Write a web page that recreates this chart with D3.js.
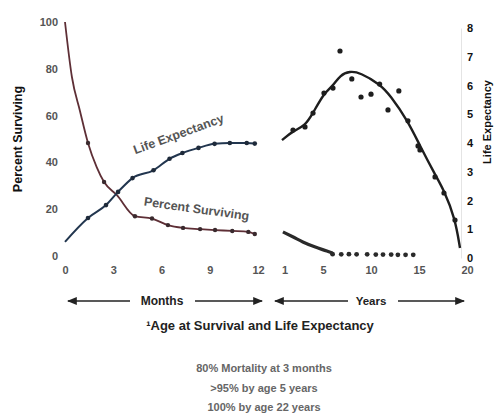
<!DOCTYPE html>
<html>
<head>
<meta charset="utf-8">
<script src="https://cdn.jsdelivr.net/npm/d3@7"></script>
<style>
  body { margin: 0; background: #fff; }
  svg text { font-family: "Liberation Sans", Arial, sans-serif; }
</style>
</head>
<body>
<div id="chart"></div>
<script>
// months part: percent surviving (left axis)
var survMonthsCurve = [[0,100],[0.43,76.5],[0.93,62],[1.43,48.3],[1.97,38],[2.43,31.6],[3.23,26],[4.35,17],[5.41,16],[6.4,13.2],[7.34,12],[8.4,11.5],[9.33,11.1],[10.4,10.7],[11.4,10.3],[11.8,9.4]];
var survMonthsDots = [[1.43,48.3],[2.43,31.6],[4.35,17],[5.41,16],[6.4,13.2],[7.34,12],[8.4,11.5],[9.33,11.1],[10.4,10.7],[11.4,10.3],[11.8,9.4]];

// months part: life expectancy (right axis)
var lifeMonths = [[0,0.56],[1.43,1.39],[2.55,1.84],[3.3,2.3],[4.2,2.78],[5.5,3.05],[6.5,3.45],[7.3,3.65],[8.3,3.83],[9.3,3.97],[10.25,4.0],[11.3,4.0],[11.8,3.98]];

// years part: percent surviving (left axis)
var survYearsLine = [[0.83,10.3],[1.9,8.1],[2.9,6],[4.2,3.8],[5.4,2.1],[6.0,1.2]];
var survYearsDots = [[6.0,0.8],[6.9,0.7],[7.7,0.8],[8.5,0.7],[9.6,0.7],[10.5,0.6],[11.25,0.6],[12.1,0.6],[12.8,0.5],[13.6,0.5],[14.4,0.5]];

// years part: life expectancy (right axis), fitted curve + observed points
var lifeYearsFit = [[0.73,4.1],[1.875,4.42],[3.125,4.59],[3.96,5.04],[5.1,5.74],[6.04,5.98],[6.77,6.36],[7.8,6.5],[8.85,6.45],[10.9,6.05],[11.98,5.67],[13.85,4.76],[15.1,3.9],[16.67,2.9],[17.6,2.36],[18.75,1.39],[19.27,0.35]];
var lifeYearsDots = [[1.875,4.45],[3.125,4.56],[3.96,5.04],[5.1,5.74],[6.04,5.91],[6.77,7.2],[8.0,6.23],[8.96,5.6],[10,5.7],[10.9,6.05],[11.77,5.15],[12.9,5.81],[13.85,4.77],[15.1,3.76],[14.9,3.9],[16.67,2.82],[17.6,2.26],[18.75,1.32]];

var monthTicks = [0, 3, 6, 9, 12];
var yearTicks = [1, 5, 10, 15, 20];
var pctTicks = [0, 20, 40, 60, 80, 100];
var lifeTicks = [0, 1, 2, 3, 4, 5, 6, 7, 8];
var notes = ["80% Mortality at 3 months", ">95% by age 5 years", "100% by age 22 years"];

var w = 495, h = 420;
var svg = d3.select("#chart").append("svg")
    .attr("width", w)
    .attr("height", h);

var xMonth = d3.scaleLinear().domain([0, 12]).range([65, 258]);
var xYear = d3.scaleLinear().domain([0, 20]).range([275, 467]);
var yPct = d3.scaleLinear().domain([0, 100]).range([256, 22]);
var yLife = d3.scaleLinear().domain([0, 8]).range([258, 28]);

var tickGrey = "#555";

// left axis
var gl = svg.append("g")
    .attr("transform", "translate(61,0)")
    .call(d3.axisLeft(yPct).tickValues(pctTicks).tickSize(0).tickPadding(3));
gl.select(".domain").remove();

// right axis
var gr = svg.append("g")
    .attr("transform", "translate(461,0)")
    .call(d3.axisRight(yLife).tickValues(lifeTicks).tickSize(0).tickPadding(6));
gr.select(".domain").attr("stroke", "#e4e4e4");

// bottom axes
var gm = svg.append("g")
    .attr("transform", "translate(0,263)")
    .call(d3.axisBottom(xMonth).tickValues(monthTicks).tickSize(0).tickPadding(3));
gm.select(".domain").remove();
var gy = svg.append("g")
    .attr("transform", "translate(0,263)")
    .call(d3.axisBottom(xYear).tickValues(yearTicks).tickSize(0).tickPadding(3));
gy.select(".domain").remove();

svg.selectAll(".tick text")
    .style("font-size", "11px")
    .style("font-weight", "bold")
    .attr("fill", tickGrey);
gr.selectAll(".tick text").attr("fill", "#111");

var lineM = d3.line().x(d => xMonth(d[0])).curve(d3.curveMonotoneX);
var lineY = d3.line().x(d => xYear(d[0])).curve(d3.curveMonotoneX);

// percent surviving, months
svg.append("path")
    .attr("d", lineM.y(d => yPct(d[1]))(survMonthsCurve))
    .attr("fill", "none").attr("stroke", "#5e2f36").attr("stroke-width", 1.8);
svg.selectAll(".sm").data(survMonthsDots).enter().append("circle")
    .attr("cx", d => xMonth(d[0])).attr("cy", d => yPct(d[1])).attr("r", 2.2)
    .attr("fill", "#3a2a2e");

// life expectancy, months
svg.append("path")
    .attr("d", lineM.y(d => yLife(d[1]))(lifeMonths))
    .attr("fill", "none").attr("stroke", "#22364f").attr("stroke-width", 2);
svg.selectAll(".lm").data(lifeMonths.slice(1)).enter().append("circle")
    .attr("cx", d => xMonth(d[0])).attr("cy", d => yLife(d[1])).attr("r", 2.3)
    .attr("fill", "#1e2a3a");

// percent surviving, years
svg.append("path")
    .attr("d", lineY.y(d => yPct(d[1]))(survYearsLine))
    .attr("fill", "none").attr("stroke", "#2a2a2a").attr("stroke-width", 3.2);
svg.selectAll(".sy").data(survYearsDots).enter().append("circle")
    .attr("cx", d => xYear(d[0])).attr("cy", d => yPct(d[1])).attr("r", 2.4)
    .attr("fill", "#2a2a2a");

// life expectancy, years
svg.append("path")
    .attr("d", d3.line().x(d => xYear(d[0])).y(d => yLife(d[1])).curve(d3.curveBasis)(lifeYearsFit))
    .attr("fill", "none").attr("stroke", "#1e1e1e").attr("stroke-width", 2.4);
svg.selectAll(".ly").data(lifeYearsDots).enter().append("circle")
    .attr("cx", d => xYear(d[0])).attr("cy", d => yLife(d[1])).attr("r", 2.6)
    .attr("fill", "#1e1e1e");

// curve labels
svg.append("text")
    .attr("transform", "translate(180,138) rotate(-20)")
    .attr("text-anchor", "middle")
    .style("font-size", "12.5px").style("font-weight", "bold")
    .attr("fill", "#555")
    .text("Life Expectancy");
svg.append("text")
    .attr("transform", "translate(196,213) rotate(8)")
    .attr("text-anchor", "middle")
    .style("font-size", "12.5px").style("font-weight", "bold")
    .attr("fill", "#555")
    .text("Percent Surviving");

// axis titles
svg.append("text")
    .attr("transform", "translate(22,139) rotate(-90)")
    .attr("text-anchor", "middle")
    .style("font-size", "12.5px").style("font-weight", "bold")
    .attr("fill", "#111")
    .text("Percent Surviving");
svg.append("text")
    .attr("transform", "translate(491,122) rotate(-90)")
    .attr("text-anchor", "middle")
    .style("font-size", "11px").style("font-weight", "bold")
    .attr("fill", "#111")
    .text("Life Expectancy");

// months / years arrows
var defs = svg.append("defs");
defs.append("marker").attr("id", "ah")
    .attr("viewBox", "0 0 10 10").attr("refX", 9).attr("refY", 5)
    .attr("markerWidth", 7).attr("markerHeight", 7).attr("orient", "auto-start-reverse")
    .append("path").attr("d", "M0,1L10,5L0,9Z").attr("fill", "#222");

var arrowY = 301;
function seg(x1, x2, start, end) {
    var l = svg.append("line")
        .attr("x1", x1).attr("x2", x2).attr("y1", arrowY).attr("y2", arrowY)
        .attr("stroke", "#222").attr("stroke-width", 1.4);
    if (start) l.attr("marker-start", "url(#ah)");
    if (end) l.attr("marker-end", "url(#ah)");
}
seg(xMonth(0) + 3, 130, true, false);
seg(195, xMonth(12) + 4, false, true);
seg(xYear(0), 348, true, false);
seg(398, xYear(20) - 3, false, true);

svg.append("text").attr("x", 162).attr("y", arrowY + 4)
    .attr("text-anchor", "middle").style("font-size", "12px").style("font-weight", "bold")
    .attr("fill", "#222").text("Months");
svg.append("text").attr("x", 371).attr("y", arrowY + 4)
    .attr("text-anchor", "middle").style("font-size", "11.5px").style("font-weight", "bold")
    .attr("fill", "#222").text("Years");

svg.append("text").attr("x", 260).attr("y", 330)
    .attr("text-anchor", "middle").style("font-size", "13px").style("font-weight", "bold")
    .attr("fill", "#222").text("\u00b9Age at Survival and Life Expectancy");

// notes
svg.selectAll(".note").data(notes).enter().append("text")
    .attr("x", 264)
    .attr("y", (d, i) => 372 + i * 19.5)
    .attr("text-anchor", "middle")
    .style("font-size", "11px").style("font-weight", "bold")
    .attr("fill", "#666")
    .text(d => d);
</script>
</body>
</html>
